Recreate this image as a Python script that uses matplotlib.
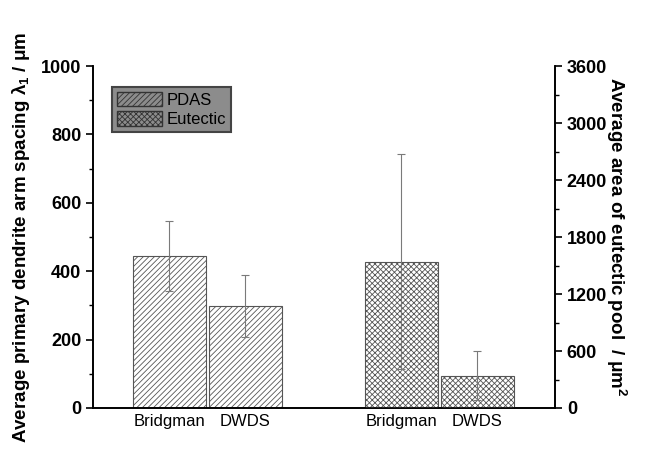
import matplotlib
matplotlib.use("Agg")
import matplotlib.pyplot as plt
from matplotlib.patches import Patch
from matplotlib.ticker import MultipleLocator

# ── Data ──────────────────────────────────────────────────────────────────────
methods = ["Bridgman", "DWDS"]
pdas_mean = [445, 298]
pdas_err = [102, 90]
eut_mean = [1540, 340]
eut_err = [1130, 258]

plt.rcParams["font.family"] = ["Liberation Sans", "DejaVu Sans"]
plt.rcParams["hatch.linewidth"] = 0.6
plt.rcParams["mathtext.fontset"] = "custom"
plt.rcParams["mathtext.rm"] = "Liberation Sans:bold"
plt.rcParams["mathtext.it"] = "Liberation Sans:bold"
plt.rcParams["mathtext.default"] = "rm"

EDGE = "#555555"
ERR = "#7a7a7a"

fig = plt.figure(figsize=(6.47, 4.55), dpi=100)
ax = fig.add_axes([0.1437, 0.1033, 0.7141, 0.7516])
ax2 = ax.twinx()

x_pdas = [1.0, 2.0]
x_eut = [4.05, 5.05]
w = 0.96

ax.bar(x_pdas, pdas_mean, width=w, color="white", edgecolor=EDGE,
       hatch="//////", linewidth=0.8, zorder=2)
ax.errorbar(x_pdas, pdas_mean, yerr=pdas_err, fmt="none", ecolor=ERR,
            elinewidth=0.8, capsize=3, capthick=0.8, zorder=3)

ax2.bar(x_eut, eut_mean, width=w, color="white", edgecolor=EDGE,
        hatch="xxxxxx", linewidth=0.8, zorder=2)
ax2.errorbar(x_eut, eut_mean, yerr=eut_err, fmt="none", ecolor=ERR,
             elinewidth=0.8, capsize=3, capthick=0.8, zorder=3)

ax.set_xlim(0, 6.07)
ax.set_ylim(0, 1000)
ax2.set_ylim(0, 3600)

ax.yaxis.set_major_locator(MultipleLocator(200))
ax.yaxis.set_minor_locator(MultipleLocator(100))
ax2.yaxis.set_major_locator(MultipleLocator(600))
ax2.yaxis.set_minor_locator(MultipleLocator(300))

ax.set_xticks(x_pdas + x_eut)
ax.set_xticklabels(methods + methods, fontsize=12)
ax.tick_params(axis="x", length=0, pad=4)

for a in (ax, ax2):
    a.spines["top"].set_visible(False)
    for s in a.spines.values():
        s.set_linewidth(1.2)
    a.tick_params(axis="y", which="major", length=5, width=1.2,
                  labelsize=13, direction="out")
    a.tick_params(axis="y", which="minor", length=3, width=1.0, direction="out")
    for lbl in a.get_yticklabels():
        lbl.set_fontweight("bold")

ax.set_ylabel(r"Average primary dendrite arm spacing λ$_1$ / μm",
              fontsize=13.5, fontweight="bold", labelpad=6)
ax2.set_ylabel(r"Average area of eutectic pool  / μm$^2$",
               fontsize=13.5, fontweight="bold", rotation=270, labelpad=15)

handles = [Patch(facecolor="#8c8c8c", edgecolor="#333333", hatch="//////", label="PDAS"),
           Patch(facecolor="#8c8c8c", edgecolor="#333333", hatch="xxxxxx", label="Eutectic")]
leg = ax.legend(handles=handles, loc="upper left", bbox_to_anchor=(0.041, 0.94),
                fontsize=12, fancybox=False, framealpha=1, borderpad=0.3,
                handlelength=2.7, handleheight=1.0, labelspacing=0.2,
                handletextpad=0.3, borderaxespad=0)
leg.get_frame().set_facecolor("#8c8c8c")
leg.get_frame().set_edgecolor("#444444")
leg.get_frame().set_linewidth(1.5)

fig.savefig("out.png", dpi=100)
